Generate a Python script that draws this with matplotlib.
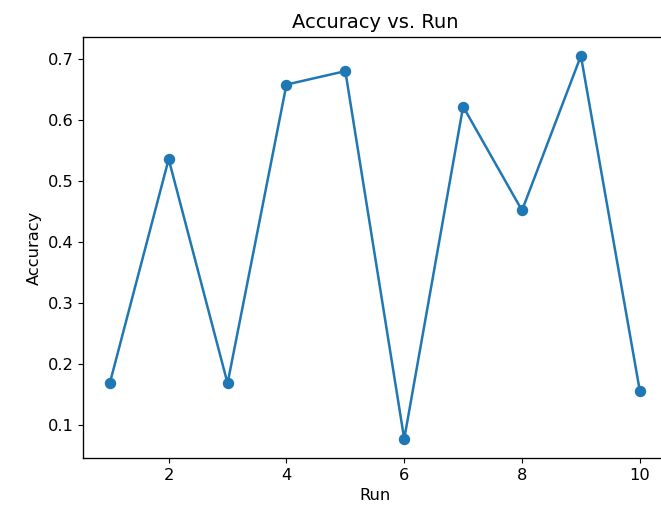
import matplotlib.pyplot as plt

runs = [1, 2, 3, 4, 5, 6, 7, 8, 9, 10]
accuracy = [0.169, 0.536, 0.169, 0.658, 0.680, 0.078, 0.622, 0.452, 0.705, 0.157]

plt.rcParams['font.size'] = 11.7
plt.rcParams['axes.linewidth'] = 0.95

fig = plt.figure(figsize=(6.61, 5.17), dpi=100)
ax = fig.add_axes([0.126, 0.114, 0.882, 0.815])
ax.plot(runs, accuracy, marker='o', linewidth=1.8, markersize=7.2)
ax.set_title('Accuracy vs. Run', fontsize=14)
ax.set_xlabel('Run')
ax.set_ylabel('Accuracy')
fig.savefig('out.png', dpi=100)
